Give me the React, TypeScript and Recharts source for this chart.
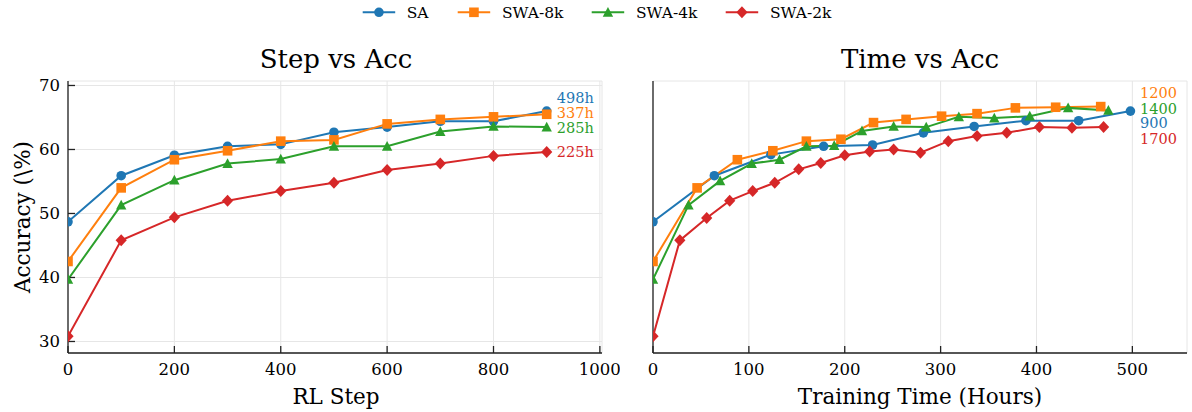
import React from "react";
import {
  LineChart,
  Line,
  XAxis,
  YAxis,
  CartesianGrid,
  ReferenceDot,
} from "recharts";

// series names and colours (matplotlib tab10)
const SERIES = ["SA", "SWA-8k", "SWA-4k", "SWA-2k"];
const COLORS = ["#1f77b4", "#ff7f0e", "#2ca02c", "#d62728"];
const MARKERS = ["circle", "square", "triangle", "diamond"];

// left panel: accuracy by RL step
const steps = [0, 100, 200, 300, 400, 500, 600, 700, 800, 900];
const stepSA = [48.7, 55.9, 59.1, 60.5, 60.8, 62.7, 63.5, 64.4, 64.4, 66.0];
const stepSWA8k = [42.5, 54.0, 58.4, 59.8, 61.3, 61.5, 64.0, 64.7, 65.1, 65.5];
const stepSWA4k = [39.7, 51.3, 55.2, 57.8, 58.5, 60.5, 60.5, 62.8, 63.6, 63.5];
const stepSWA2k = [30.8, 45.8, 49.4, 52.0, 53.5, 54.8, 56.8, 57.8, 59.0, 59.6];
const stepEndLabels = ["498h", "337h", "285h", "225h"];

// right panel: accuracy by training hours
const hoursSA = [0, 64, 123, 178, 229, 282, 335, 389, 444, 498];
const timeSA = [48.7, 55.9, 59.2, 60.5, 60.7, 62.6, 63.6, 64.5, 64.5, 66.0];
const hoursSWA8k = [0, 46, 88, 125, 160, 196, 230, 264, 301, 338, 378, 420, 467];
const timeSWA8k = [42.5, 54.0, 58.4, 59.8, 61.3, 61.6, 64.2, 64.7, 65.2, 65.6, 66.5, 66.6, 66.7];
const hoursSWA4k = [0, 37, 70, 103, 132, 160, 189, 218, 251, 285, 319, 356, 393, 433, 475];
const timeSWA4k = [39.7, 51.3, 55.1, 57.8, 58.4, 60.5, 60.6, 62.9, 63.6, 63.5, 65.1, 64.9, 65.2, 66.5, 66.1];
const hoursSWA2k = [0, 28, 56, 80, 104, 127, 152, 175, 200, 226, 251, 279, 308, 338, 369, 403, 437, 470];
const timeSWA2k = [30.8, 45.8, 49.3, 52.0, 53.5, 54.8, 56.9, 57.9, 59.1, 59.7, 60.0, 59.5, 61.3, 62.1, 62.6, 63.5, 63.4, 63.5];
const timeEndLabels = ["900", "1200", "1400", "1700"];

// ticks
const stepTicks = [0, 200, 400, 600, 800, 1000];
const hourTicks = [0, 100, 200, 300, 400, 500];
const accTicks = [30, 40, 50, 60, 70];

// where the end-of-line annotations sit (data units, text baseline)
const stepLabelX = 919;
const stepLabelY = [67.3, 64.9, 62.5, 58.8];
const timeLabelX = 508;
const timeLabelY = [63.3, 68.1, 65.5, 60.8];

const FONT = "DejaVu Serif, serif";
const AXIS = "#222";

const zip = (xs: number[], ys: number[]) => xs.map((x, i) => ({ x, y: ys[i] }));

const stepData = [
  zip(steps, stepSA),
  zip(steps, stepSWA8k),
  zip(steps, stepSWA4k),
  zip(steps, stepSWA2k),
];
const timeData = [
  zip(hoursSA, timeSA),
  zip(hoursSWA8k, timeSWA8k),
  zip(hoursSWA4k, timeSWA4k),
  zip(hoursSWA2k, timeSWA2k),
];

function markerShape(kind: string, cx: number, cy: number, color: string, key?: any) {
  if (cx == null || cy == null) return <g key={key} />;
  if (kind === "circle") return <circle key={key} cx={cx} cy={cy} r={4.8} fill={color} />;
  if (kind === "square")
    return <rect key={key} x={cx - 4.8} y={cy - 4.8} width={9.6} height={9.6} fill={color} />;
  if (kind === "triangle")
    return (
      <polygon
        key={key}
        points={`${cx},${cy - 5.4} ${cx - 5.2},${cy + 4.4} ${cx + 5.2},${cy + 4.4}`}
        fill={color}
      />
    );
  return (
    <polygon
      key={key}
      points={`${cx},${cy - 6} ${cx + 5.6},${cy} ${cx},${cy + 6} ${cx - 5.6},${cy}`}
      fill={color}
    />
  );
}

interface PanelProps {
  data: { x: number; y: number }[][];
  xDomain: [number, number];
  xTicks: number[];
  showYLabels: boolean;
  width: number;
  margin: { top: number; right: number; bottom: number; left: number };
  endLabels: string[];
  labelX: number;
  labelY: number[];
}

function Panel({ data, xDomain, xTicks, showYLabels, width, margin, endLabels, labelX, labelY }: PanelProps) {
  const tickStyle = { fontSize: 16.5, fontFamily: FONT, fill: "#000" };
  const line = { stroke: AXIS, strokeWidth: 1.3 };
  return (
    <LineChart width={width} height={412} margin={margin}>
      <CartesianGrid stroke="#e6e6e6" strokeWidth={1} />
      <XAxis
        type="number"
        dataKey="x"
        domain={xDomain}
        ticks={xTicks}
        allowDataOverflow
        tick={tickStyle}
        tickSize={-7}
        tickMargin={17}
        tickLine={line}
        axisLine={line}
        height={30}
      />
      <XAxis
        xAxisId="top"
        orientation="top"
        type="number"
        dataKey="x"
        domain={xDomain}
        ticks={xTicks}
        allowDataOverflow
        tick={false}
        tickSize={-7}
        tickLine={line}
        axisLine={line}
        height={0}
      />
      <YAxis
        type="number"
        domain={[28.2, 70.7]}
        ticks={accTicks}
        allowDataOverflow
        tick={showYLabels ? tickStyle : false}
        tickSize={-7}
        tickMargin={15}
        tickLine={line}
        axisLine={line}
        width={40}
      />
      <YAxis
        yAxisId="right"
        orientation="right"
        type="number"
        domain={[28.2, 70.7]}
        ticks={accTicks}
        allowDataOverflow
        tick={false}
        tickSize={-7}
        tickLine={line}
        axisLine={line}
        width={0}
      />
      {data.map((d, i) => (
        <Line
          key={SERIES[i]}
          data={d}
          dataKey="y"
          name={SERIES[i]}
          stroke={COLORS[i]}
          strokeWidth={2}
          isAnimationActive={false}
          activeDot={false}
          dot={(p: any) => markerShape(MARKERS[i], p.cx, p.cy, COLORS[i], p.key ?? `${i}-${p.index}`)}
        />
      ))}
      {endLabels.map((t, i) => (
        <ReferenceDot
          key={t}
          x={labelX}
          y={labelY[i]}
          r={0}
          ifOverflow="visible"
          shape={(p: any) => (
            <text x={p.cx} y={p.cy} fill={COLORS[i]} fontSize={14.5} fontFamily={FONT}>
              {t}
            </text>
          )}
        />
      ))}
    </LineChart>
  );
}

function Legend() {
  const lineStarts = [362.7, 457.7, 591.7, 725.7];
  const textStarts = [406.7, 502, 636, 770];
  return (
    <g>
      {SERIES.map((s, i) => {
        const x0 = lineStarts[i];
        const x1 = x0 + 32.5;
        const mid = (x0 + x1) / 2;
        return (
          <g key={s}>
            <line x1={x0} x2={x1} y1={12.3} y2={12.3} stroke={COLORS[i]} strokeWidth={2} />
            {markerShape(MARKERS[i], mid, 12.3, COLORS[i])}
            <text x={textStarts[i]} y={17.5} fontSize={15.5} fontFamily={FONT} fill="#000">
              {s}
            </text>
          </g>
        );
      })}
    </g>
  );
}

export default function App() {
  return (
    <div style={{ position: "absolute", left: 0, top: 0, width: 1192, height: 412, background: "#fff" }}>
      <div style={{ position: "absolute", left: 0, top: 0 }}>
        <Panel
          data={stepData}
          xDomain={[0, 1004]}
          xTicks={stepTicks}
          showYLabels
          width={620}
          margin={{ top: 81, right: 18, bottom: 29, left: 28 }}
          endLabels={stepEndLabels}
          labelX={stepLabelX}
          labelY={stepLabelY}
        />
      </div>
      <div style={{ position: "absolute", left: 606, top: 0 }}>
        <Panel
          data={timeData}
          xDomain={[0, 557]}
          xTicks={hourTicks}
          showYLabels={false}
          width={586}
          margin={{ top: 81, right: 5, bottom: 29, left: 7 }}
          endLabels={timeEndLabels}
          labelX={timeLabelX}
          labelY={timeLabelY}
        />
      </div>
      <svg
        width={1192}
        height={412}
        style={{ position: "absolute", left: 0, top: 0, pointerEvents: "none" }}
      >
        <Legend />
        <text x={336} y={68} textAnchor="middle" fontSize={26} fontFamily={FONT} fill="#000">
          Step vs Acc
        </text>
        <text x={920} y={68} textAnchor="middle" fontSize={26} fontFamily={FONT} fill="#000">
          Time vs Acc
        </text>
        <text x={336} y={404} textAnchor="middle" fontSize={21.5} fontFamily={FONT} fill="#000">
          RL Step
        </text>
        <text x={920} y={404} textAnchor="middle" fontSize={21.5} fontFamily={FONT} fill="#000">
          Training Time (Hours)
        </text>
        <text
          x={30}
          y={217}
          transform="rotate(-90 30 217)"
          textAnchor="middle"
          fontSize={21.5}
          fontFamily={FONT}
          fill="#000"
        >
          Accuracy (\%)
        </text>
      </svg>
    </div>
  );
}
